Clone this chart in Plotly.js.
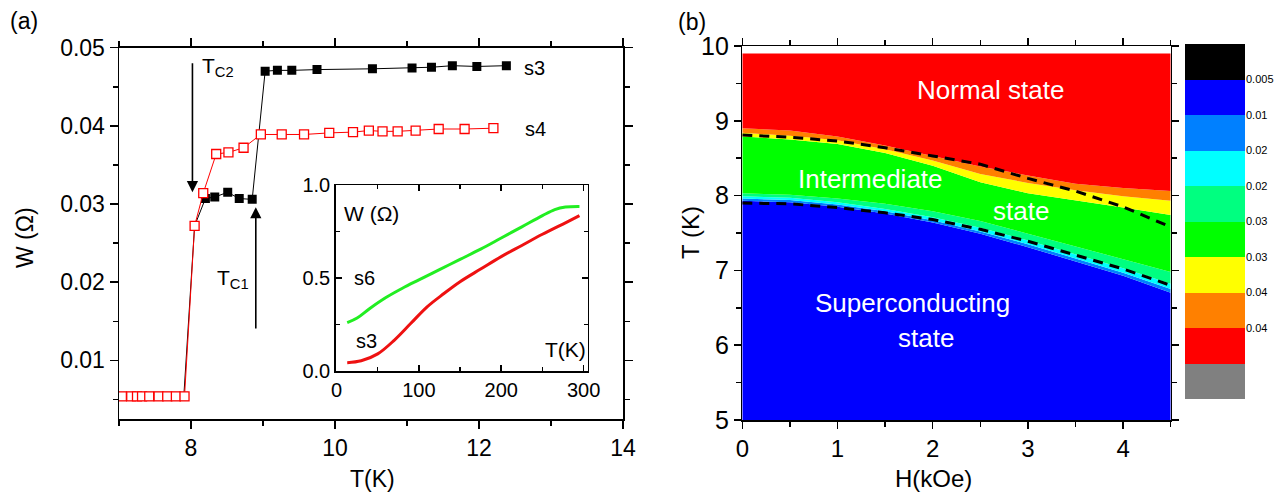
<!DOCTYPE html>
<html><head><meta charset="utf-8">
<script src="https://cdn.plot.ly/plotly-3.0.1.min.js"></script>
<style>html,body{margin:0;padding:0;background:#fff}#chart{width:1283px;height:493px}</style>
</head><body><div id="chart"></div>
<script>
// ---------------- data: panel (a) ----------------
const s3T = [7.04,7.17,7.25,7.32,7.42,7.55,7.67,7.79,7.90,8.05,8.20,8.33,8.51,8.67,8.85,9.03,9.20,9.40,9.75,10.52,11.07,11.34,11.63,11.97,12.38];
const s3W = [0.0054,0.0054,0.0054,0.0054,0.0054,0.0054,0.0054,0.0054,0.0054,0.0272,0.0307,0.0309,0.0315,0.0307,0.0306,0.0470,0.0471,0.0471,0.0472,0.0473,0.0474,0.0475,0.0477,0.0476,0.0477];
const s4T = [7.04,7.17,7.25,7.32,7.42,7.55,7.67,7.79,7.91,8.05,8.17,8.35,8.52,8.73,8.97,9.26,9.57,9.92,10.25,10.47,10.66,10.87,11.12,11.44,11.80,12.20];
const s4W = [0.0054,0.0054,0.0054,0.0054,0.0054,0.0054,0.0054,0.0054,0.0054,0.0272,0.0314,0.0364,0.0366,0.0372,0.0389,0.0389,0.0389,0.0391,0.0392,0.0394,0.0393,0.0393,0.0394,0.0396,0.0396,0.0397];
// Tc arrows: T value, start W, tip W
const Tc2 = 8.02, Tc2From = 0.0482, Tc2To = 0.0315;
const Tc1 = 8.90, Tc1From = 0.0139, Tc1To = 0.0296;
// inset
const s6InT = [13,25,40,60,80,100,125,150,175,200,225,250,265,278,295];
const s6InW = [0.26,0.285,0.335,0.395,0.445,0.49,0.545,0.60,0.655,0.715,0.775,0.835,0.868,0.882,0.885];
const s3InT = [13,30,50,70,90,110,130,150,175,200,225,250,275,295];
const s3InW = [0.045,0.055,0.092,0.165,0.255,0.345,0.415,0.48,0.548,0.615,0.675,0.735,0.79,0.835];
// ---------------- data: panel (b) ----------------
const H   = [0,0.5,1,1.5,2,2.5,3,3.5,4,4.5];
const b1  = [7.93,7.91,7.85,7.76,7.64,7.49,7.31,7.12,6.93,6.70];
const b2  = [7.96,7.94,7.88,7.79,7.67,7.52,7.35,7.16,6.97,6.75];
const b3  = [7.99,7.97,7.91,7.82,7.71,7.57,7.40,7.22,7.03,6.82];
const b4  = [8.03,8.01,7.96,7.89,7.79,7.66,7.49,7.32,7.16,6.98];
const b5  = [8.79,8.75,8.69,8.57,8.40,8.18,8.03,7.94,7.84,7.74];
const b6  = [8.84,8.80,8.74,8.62,8.47,8.29,8.17,8.07,7.99,7.93];
const b7  = [8.90,8.87,8.79,8.67,8.53,8.39,8.27,8.16,8.10,8.06];
const bTop= [9.90,9.90,9.90,9.90,9.90,9.90,9.90,9.90,9.90,9.90];
const dashUpper = [8.81,8.78,8.73,8.64,8.53,8.42,8.23,8.06,7.85,7.58];
const dashLower = [7.90,7.89,7.84,7.77,7.68,7.55,7.39,7.21,7.02,6.80];
// colour bar (top to bottom)
const cbColors = ['#000000','#0000FF','#0080FF','#00FFFF','#00FF80','#00FF00','#FFFF00','#FF8000','#FF0000','#808080'];
const cbLabels = ['0.005','0.01','0.02','0.02','0.03','0.03','0.04','0.04'];

// ---------------- build ----------------
const F = 'Liberation Sans, Arial, Helvetica, sans-serif';
const W = 1283, Hh = 493;
const px = v => v / W, py = v => 1 - v / Hh;

const traces = [];
traces.push({x:s3T, y:s3W, xaxis:'x', yaxis:'y', mode:'lines+markers', type:'scatter',
  line:{color:'#000', width:1}, marker:{symbol:'square', size:9, color:'#000'}});
traces.push({x:s4T, y:s4W, xaxis:'x', yaxis:'y', mode:'lines+markers', type:'scatter',
  line:{color:'#FF0000', width:1}, marker:{symbol:'square', size:9, color:'#fff', line:{color:'#FF0000', width:1.3}}});
traces.push({x:s6InT, y:s6InW, xaxis:'x2', yaxis:'y2', mode:'lines', type:'scatter',
  line:{color:'#22EE22', width:3, shape:'spline', smoothing:1}});
traces.push({x:s3InT, y:s3InW, xaxis:'x2', yaxis:'y2', mode:'lines', type:'scatter',
  line:{color:'#EE1111', width:3, shape:'spline', smoothing:1}});

const bands = [[b1,'#0000FF','tozeroy'],[b2,'#0080FF','tonexty'],[b3,'#00FFFF','tonexty'],[b4,'#00FF80','tonexty'],
  [b5,'#00FF00','tonexty'],[b6,'#FFFF00','tonexty'],[b7,'#FF8000','tonexty'],[bTop,'#FF0000','tonexty']];
bands.forEach(([arr,col,fill]) => {
  traces.push({x:H, y:arr, xaxis:'x3', yaxis:'y3', mode:'lines', type:'scatter', fill:fill, fillcolor:col,
    line:{width:0, color:col}, hoverinfo:'skip'});
});
traces.push({x:H, y:dashUpper, xaxis:'x3', yaxis:'y3', mode:'lines', type:'scatter', line:{color:'#000', width:3, dash:'10px,7px'}});
traces.push({x:H, y:dashLower, xaxis:'x3', yaxis:'y3', mode:'lines', type:'scatter', line:{color:'#000', width:3, dash:'10px,7px'}});

const n = cbColors.length;
const cbZ = [], cbY = [], cbScale = [];
for (let k = 0; k < n; k++) { cbZ.push([k]); cbY.push(k); cbScale.push([k/(n-1), cbColors[n-1-k]]); }
traces.push({type:'heatmap', x:[0], y:cbY, z:cbZ, xaxis:'x4', yaxis:'y4', colorscale:cbScale, zmin:0, zmax:n-1, showscale:false});
const cbTickVals = cbLabels.map((_, i) => n - 1.5 - i);

const ax = (o) => Object.assign({showgrid:false, zeroline:false, showline:true, linecolor:'#000', linewidth:1.5,
  ticks:'outside', tickcolor:'#000', tickwidth:1.5, mirror:'ticks'}, o);

const layout = {
  width:W, height:Hh, margin:{l:0,r:0,t:0,b:0}, paper_bgcolor:'#fff', plot_bgcolor:'rgba(0,0,0,0)', showlegend:false,
  font:{family:F, color:'#000'},
  xaxis: ax({domain:[px(119),px(623)], range:[7,14], tick0:0, dtick:2, ticklen:8, tickfont:{size:23}, anchor:'y',
    minor:{dtick:1, ticks:'outside', ticklen:5, tickwidth:1.5, tickcolor:'#000'}}),
  yaxis: ax({domain:[py(419),py(47.7)], range:[0.0025,0.05], tick0:0, dtick:0.01, tickformat:'.2f', ticklen:8, tickfont:{size:23}, anchor:'x',
    minor:{dtick:0.005, ticks:'outside', ticklen:5, tickwidth:1.5, tickcolor:'#000'}}),
  xaxis2: ax({domain:[px(335.7),px(587.7)], range:[-1,305], tick0:0, dtick:100, ticks:'inside', ticklen:6, tickfont:{size:20}, anchor:'y2',
    minor:{dtick:50, ticks:'inside', ticklen:4, tickwidth:1.5, tickcolor:'#000'}}),
  yaxis2: ax({domain:[py(371),py(185)], range:[0,1], tick0:0, dtick:0.5, tickformat:'.1f', ticks:'inside', ticklen:6, tickfont:{size:20}, anchor:'x2',
    minor:{dtick:0.25, ticks:'inside', ticklen:4, tickwidth:1.5, tickcolor:'#000'}}),
  xaxis3: ax({domain:[px(742.3),px(1170.7)], range:[0,4.5], tick0:0, dtick:1, ticklen:7, tickfont:{size:24}, anchor:'y3',
    minor:{dtick:0.5, ticks:'outside', ticklen:5, tickwidth:1.5, tickcolor:'#000'}}),
  yaxis3: ax({domain:[py(420),py(46)], range:[5,10], tick0:0, dtick:1, ticklen:7, tickfont:{size:25}, anchor:'x3',
    minor:{dtick:0.5, ticks:'outside', ticklen:5, tickwidth:1.5, tickcolor:'#000'}}),
  xaxis4: {domain:[px(1185),px(1245)], range:[-0.5,0.5], visible:false, anchor:'y4', fixedrange:true},
  yaxis4: {domain:[py(399),py(44)], range:[-0.5,n-0.5], side:'right', anchor:'x4', showline:false, showgrid:false, zeroline:false,
    ticks:'', tickvals:cbTickVals, ticktext:cbLabels, tickfont:{size:11}},
  annotations: []
};
const A = layout.annotations;
const txt = (t, x, y, size, extra) => A.push(Object.assign({text:t, x:px(x), y:py(y), xref:'paper', yref:'paper', showarrow:false,
  font:{size:size, family:F, color:'#000'}, xanchor:'center', yanchor:'middle'}, extra||{}));
txt('(a)', 24, 21, 23);
txt('(b)', 692, 22, 23);
txt('W (\u03A9)', 25, 238, 23, {textangle:-90});
txt('T(K)', 372, 479, 23);
txt('H(kOe)', 933, 478, 24);
txt('T (K)', 690, 232, 24, {textangle:-90});
txt('s3', 534, 68, 20);
txt('s4', 535, 129, 20);
txt('T<sub>C2</sub>', 200, 52, 21, {xanchor:'left', yanchor:'top'});
txt('T<sub>C1</sub>', 215, 264, 21, {xanchor:'left', yanchor:'top'});
txt('W (\u03A9)', 342, 213, 21, {xanchor:'left'});
txt('s6', 364, 278, 20);
txt('s3', 366, 341, 20);
txt('T(K)', 565, 349, 21);
const white = {font:{size:26, family:F, color:'#fff'}};
txt('Normal state', 990, 90, 26, white);
txt('Intermediate', 870, 179, 26, white);
txt('state', 1021, 211, 26, white);
txt('Superconducting', 912, 303, 26, white);
txt('state', 926, 338, 26, white);
// arrows marking Tc
[[Tc2,Tc2From,Tc2To],[Tc1,Tc1From,Tc1To]].forEach(([t,a,b]) => {
  A.push({x:t, y:b, ax:t, ay:a, xref:'x', yref:'y', axref:'x', ayref:'y', text:'', showarrow:true,
    arrowhead:2, arrowsize:1.4, arrowwidth:1.6, arrowcolor:'#000'});
});

Plotly.newPlot('chart', traces, layout, {staticPlot:true, displayModeBar:false});
</script></body></html>
